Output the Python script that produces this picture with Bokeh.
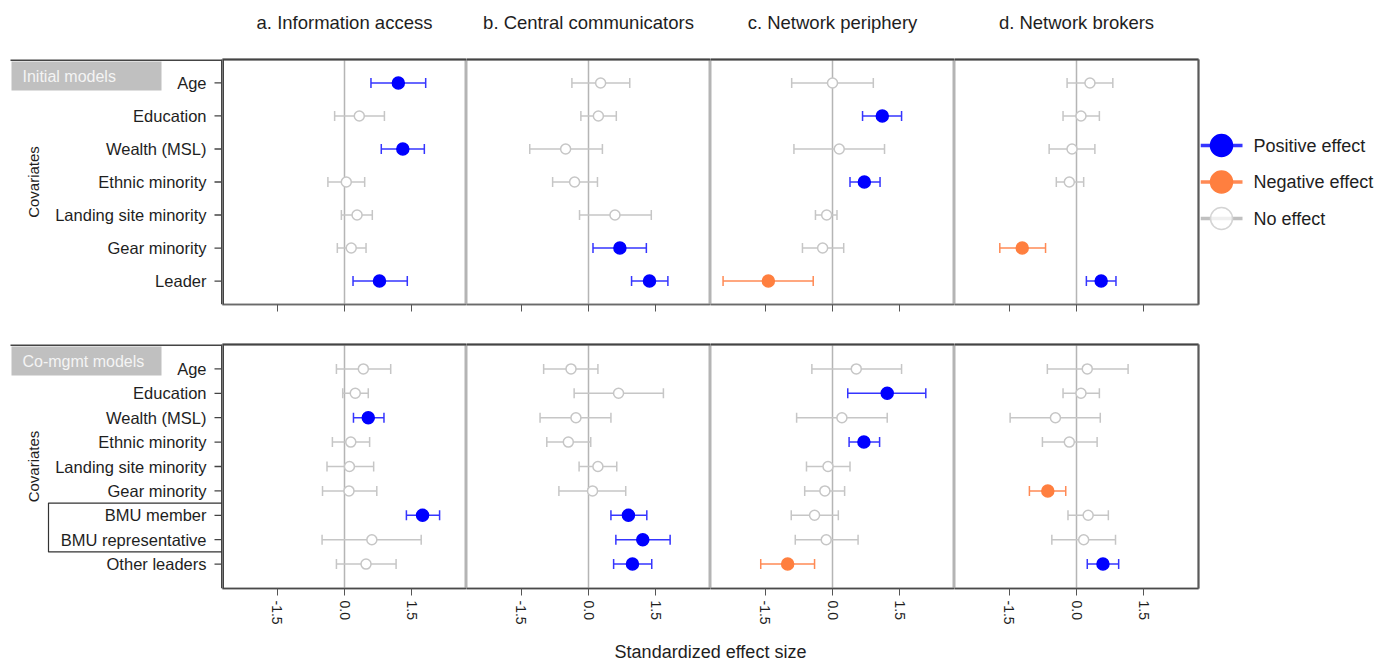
import math
from bokeh.plotting import figure
from bokeh.models import (Range1d, FixedTicker, PrintfTickFormatter, Span,
                          LinearAxis, ColumnDataSource)
from bokeh.core.properties import value
from bokeh.layouts import column, row
from bokeh.embed import file_html
from bokeh.resources import INLINE

NaN = float("nan")

# ---------------- data ----------------
PANEL_TITLES = ["a. Information access", "b. Central communicators",
                "c. Network periphery", "d. Network brokers"]
ROW_NAMES = ["Initial models", "Co-mgmt models"]
COV_INITIAL = ["Age", "Education", "Wealth (MSL)", "Ethnic minority",
               "Landing site minority", "Gear minority", "Leader"]
COV_COMGMT = ["Age", "Education", "Wealth (MSL)", "Ethnic minority",
              "Landing site minority", "Gear minority", "BMU member",
              "BMU representative", "Other leaders"]
BOXED_COVS = ["BMU member", "BMU representative"]
Y_LABEL = "Covariates"
X_TICKS = [-1.5, 0.0, 1.5]
LEGEND_LABELS = ["Positive effect", "Negative effect", "No effect"]
LEGEND_CODES = ["+", "-", "0"]
X_LABEL = "Standardized effect size"

# Initial models ("+" positive, "-" negative, "0" no effect)
init_a_est = [1.20, 0.33, 1.30, 0.04, 0.28, 0.15, 0.78]
init_a_lo = [0.59, -0.22, 0.82, -0.37, -0.07, -0.16, 0.19]
init_a_hi = [1.81, 0.89, 1.78, 0.45, 0.62, 0.48, 1.40]
init_a_eff = ["+", "0", "+", "0", "0", "0", "+"]

init_b_est = [0.27, 0.22, -0.51, -0.31, 0.59, 0.70, 1.36]
init_b_lo = [-0.37, -0.17, -1.31, -0.80, -0.20, 0.10, 0.96]
init_b_hi = [0.92, 0.62, 0.31, 0.20, 1.40, 1.29, 1.77]
init_b_eff = ["0", "0", "0", "0", "0", "+", "+"]

init_c_est = [0.00, 1.11, 0.15, 0.71, -0.13, -0.22, -1.43]
init_c_lo = [-0.91, 0.67, -0.86, 0.39, -0.38, -0.67, -2.44]
init_c_hi = [0.91, 1.54, 1.16, 1.06, 0.10, 0.25, -0.43]
init_c_eff = ["0", "+", "0", "+", "0", "0", "-"]

init_d_est = [0.30, 0.10, -0.10, -0.16, NaN, -1.21, 0.55]
init_d_lo = [-0.21, -0.30, -0.61, -0.45, NaN, -1.71, 0.22]
init_d_hi = [0.81, 0.51, 0.41, 0.16, NaN, -0.69, 0.88]
init_d_eff = ["0", "0", "0", "0", "", "-", "+"]

# Co-management models
co_a_est = [0.42, 0.24, 0.53, 0.14, 0.11, 0.10, 1.74, 0.61, 0.48]
co_a_lo = [-0.18, -0.04, 0.20, -0.27, -0.39, -0.49, 1.38, -0.50, -0.18]
co_a_hi = [1.03, 0.53, 0.88, 0.56, 0.65, 0.72, 2.12, 1.71, 1.15]
co_a_eff = ["0", "0", "+", "0", "0", "0", "+", "0", "0"]

co_b_est = [-0.39, 0.67, -0.28, -0.45, 0.21, 0.09, 0.89, 1.21, 0.98]
co_b_lo = [-1.00, -0.32, -1.08, -0.93, -0.21, -0.66, 0.50, 0.61, 0.56]
co_b_hi = [0.21, 1.67, 0.50, 0.05, 0.63, 0.83, 1.30, 1.82, 1.41]
co_b_eff = ["0", "0", "0", "0", "0", "0", "+", "+", "+"]

co_c_est = [0.53, 1.22, 0.21, 0.70, -0.10, -0.17, -0.40, -0.14, -1.00]
co_c_lo = [-0.46, 0.34, -0.80, 0.37, -0.58, -0.62, -0.92, -0.83, -1.60]
co_c_hi = [1.54, 2.08, 1.22, 1.05, 0.39, 0.27, 0.13, 0.57, -0.40]
co_c_eff = ["0", "+", "0", "+", "0", "0", "0", "0", "-"]

co_d_est = [0.24, 0.10, -0.47, -0.16, NaN, -0.64, 0.26, 0.16, 0.59]
co_d_lo = [-0.65, -0.30, -1.48, -0.76, NaN, -1.05, -0.19, -0.55, 0.24]
co_d_hi = [1.15, 0.51, 0.53, 0.46, NaN, -0.24, 0.71, 0.87, 0.94]
co_d_eff = ["0", "0", "0", "0", "", "-", "0", "0", "+"]

ROWS = [
    (COV_INITIAL, [(init_a_est, init_a_lo, init_a_hi, init_a_eff),
                   (init_b_est, init_b_lo, init_b_hi, init_b_eff),
                   (init_c_est, init_c_lo, init_c_hi, init_c_eff),
                   (init_d_est, init_d_lo, init_d_hi, init_d_eff)]),
    (COV_COMGMT, [(co_a_est, co_a_lo, co_a_hi, co_a_eff),
                  (co_b_est, co_b_lo, co_b_hi, co_b_eff),
                  (co_c_est, co_c_lo, co_c_hi, co_c_eff),
                  (co_d_est, co_d_lo, co_d_hi, co_d_eff)]),
]

# ---------------- style / layout ----------------
FONT = "Liberation Sans"
TXT = "#1e1e1e"
DARK = "#444444"
# effect -> (bar colour, point line colour, point fill, point size)
STYLE = {
    "+": ("#3535ff", "#0000ff", "#0000ff", 12),
    "-": ("#ff8a55", "#ff7f3f", "#ff7f3f", 12),
    "0": ("#c6c6c6", "#c6c6c6", "white", 10),
}

TOTAL_W, TOTAL_H = 1375, 661
XR = (-2.72, 2.72)
PW = 244                    # frame width of each panel
FH = [245, 244]             # frame heights of the two rows
Y_PAD = [0.71, 1.0]         # padding of the covariate axis
LEFT = 222                  # label column width
HEADER_H = 47
BORDER_TOP = [12, 10]
BORDER_BOTTOM = [30, 45]
RIGHT_PAD = 2
ROW_H = [BORDER_TOP[i] + FH[i] + BORDER_BOTTOM[i] for i in range(2)]
XL_H = TOTAL_H - HEADER_H - sum(ROW_H)
LEG_W = TOTAL_W - (LEFT + 4 * PW + RIGHT_PAD)
FRAME_TOP_Y = HEADER_H + BORDER_TOP[0] + FH[0]   # page y of the top row's frame bottom


def bare_figure(fw, fh, xr, yr, top=0, bottom=0):
    f = figure(frame_width=fw, frame_height=fh, x_range=xr, y_range=yr,
               toolbar_location=None, output_backend="svg",
               x_axis_location=None, y_axis_location=None,
               min_border_left=0, min_border_right=0,
               min_border_top=top, min_border_bottom=bottom)
    f.grid.visible = False
    f.outline_line_color = None
    f.background_fill_color = "white"
    f.border_fill_color = "white"
    return f


def y_extent(r, n):
    return 1 - Y_PAD[r], n + Y_PAD[r]


def make_side(r, covs):
    """Covariate labels, ticks and row tag, aligned with the panel rows."""
    n = len(covs)
    y0, y1 = y_extent(r, n)
    pyu = FH[r] / (y1 - y0)
    s = bare_figure(LEFT, FH[r], Range1d(0, LEFT), Range1d(y0, y1),
                    BORDER_TOP[r], BORDER_BOTTOM[r])
    ys = [n - i for i in range(n)]
    # covariate names and tick marks
    s.text(x=[LEFT - 16] * n, y=ys, text=covs, text_align="right",
           text_baseline="middle", text_font=value(FONT),
           text_font_size="16.5px", text_color=TXT)
    s.segment(x0=[LEFT - 8] * n, x1=[LEFT] * n, y0=ys, y1=ys,
              line_color=DARK, line_width=1.3)
    # frame left edge
    s.segment(x0=[LEFT], x1=[LEFT], y0=[y0], y1=[y1], line_color=DARK,
              line_width=3)
    # axis title
    s.text(x=[33], y=[(y0 + y1) / 2], text=[Y_LABEL], angle=math.pi / 2,
           text_align="center", text_baseline="middle", text_font=value(FONT),
           text_font_size="15px", text_color=TXT)
    # dark rule along the top of the row
    s.segment(x0=[10], x1=[LEFT], y0=[y1], y1=[y1], line_color=DARK,
              line_width=3)
    # grey row tag
    s.quad(left=[11], right=[161], top=[y1 - 2 / pyu], bottom=[y1 - 31 / pyu],
           fill_color="#c0c0c0", line_color=None)
    s.text(x=[22], y=[y1 - 16.5 / pyu], text=[ROW_NAMES[r]], text_align="left",
           text_baseline="middle", text_font=value(FONT), text_font_size="16px",
           text_color="#f4f4f4")
    # box around the BMU covariates
    boxed = [ys[covs.index(cv)] for cv in BOXED_COVS if cv in covs]
    if boxed:
        s.quad(left=[48], right=[LEFT], bottom=[min(boxed) - 0.5],
               top=[max(boxed) + 0.5], fill_color=None, line_color="#333333",
               line_width=1.2)
    return s


def make_panel(r, c, covs, est, lo, hi, eff):
    n = len(covs)
    y0, y1 = y_extent(r, n)
    p = figure(frame_width=PW, frame_height=FH[r],
               x_range=Range1d(*XR), y_range=Range1d(y0, y1),
               toolbar_location=None, output_backend="svg",
               y_axis_location=None,
               min_border_left=0,
               min_border_right=RIGHT_PAD if c == 3 else 0,
               min_border_top=BORDER_TOP[r],
               min_border_bottom=BORDER_BOTTOM[r])
    p.grid.visible = False
    p.background_fill_color = "white"
    p.border_fill_color = "white"
    p.outline_line_color = "#b4b4b4"
    p.outline_line_width = 2

    ys = [n - i for i in range(n)]
    d = dict(y=[], est=[], lo=[], hi=[], bar=[], pt=[], fill=[], size=[])
    for i in range(n):
        if math.isnan(est[i]):
            continue
        bar, ptc, fill, size = STYLE[eff[i]]
        d["y"].append(ys[i]); d["est"].append(est[i])
        d["lo"].append(lo[i]); d["hi"].append(hi[i])
        d["bar"].append(bar); d["pt"].append(ptc)
        d["fill"].append(fill); d["size"].append(size)
    src = ColumnDataSource(d)

    p.add_layout(Span(location=0, dimension="height", line_color="#b5b5b5",
                      line_width=1.5, level="underlay"))
    if c == 0:
        p.add_layout(Span(location=XR[0], dimension="height", line_color=DARK,
                          line_width=3))
    p.segment(x0="lo", x1="hi", y0="y", y1="y", line_color="bar",
              line_width=1.5, source=src)
    for col in ("lo", "hi"):
        p.scatter(x=col, y="y", marker="dash", angle=math.pi / 2, size=10,
                  line_color="bar", line_width=1.5, source=src)
    p.scatter(x="est", y="y", size="size", fill_color="fill", line_color="pt",
              line_width=1.5, source=src)

    # x axis
    xa = p.xaxis[0]
    xa.ticker = FixedTicker(ticks=X_TICKS)
    xa.formatter = PrintfTickFormatter(format="%.1f")
    xa.major_tick_out = 7
    xa.major_tick_in = 0
    xa.minor_tick_line_color = None
    xa.axis_line_color = "#6a6a6a" if r == 0 else "#4a4a4a"
    xa.axis_line_width = 1.5
    xa.major_tick_line_color = "#555555"
    if r == 0:
        xa.major_label_overrides = {t: "" for t in X_TICKS}
    else:
        xa.major_label_orientation = "vertical"
        xa.major_label_text_font = FONT
        xa.major_label_text_font_size = "14px"
        xa.major_label_text_color = TXT
        xa.major_label_standoff = 5

    def rule(side, color):
        ax = LinearAxis(ticker=FixedTicker(ticks=[]), axis_line_color=color,
                        axis_line_width=2, major_tick_line_color=None,
                        minor_tick_line_color=None, major_tick_out=0,
                        minor_tick_out=0, major_label_standoff=0)
        p.add_layout(ax, side)

    rule("above", DARK)
    if c == 3:
        rule("right", "#5a5a5a")
    return p


# header with the panel titles
header = bare_figure(TOTAL_W, HEADER_H, Range1d(0, TOTAL_W), Range1d(0, HEADER_H))
header.text(x=[LEFT + (c + 0.5) * PW for c in range(4)], y=[HEADER_H - 22] * 4,
            text=PANEL_TITLES, text_align="center", text_baseline="middle",
            text_font=value(FONT), text_font_size="18.5px", text_color=TXT)

rows_figs = []
for r, (covs, panels) in enumerate(ROWS):
    rows_figs.append([make_side(r, covs)] +
                     [make_panel(r, c, covs, *panels[c]) for c in range(4)])

# legend (frame aligned with the top row's panels; y measured up from frame bottom)
lg = bare_figure(LEG_W, FH[0], Range1d(0, LEG_W), Range1d(0, FH[0]),
                 BORDER_TOP[0], BORDER_BOTTOM[0])
LEG_Y0 = FRAME_TOP_Y - 145
LEG_STEP = 36.5
leg_y = [LEG_Y0 - i * LEG_STEP for i in range(len(LEGEND_LABELS))]
leg_line = [STYLE[k][0] if k != "0" else "#c0c0c0" for k in LEGEND_CODES]
leg_pt = [STYLE[k][1] if k != "0" else "#d4d4d4" for k in LEGEND_CODES]
leg_fill = [STYLE[k][2] for k in LEGEND_CODES]
lg.segment(x0=[0] * 3, x1=[42] * 3, y0=leg_y, y1=leg_y, line_color=leg_line,
           line_width=3.5)
lg.scatter(x=[21] * 3, y=leg_y, size=22, line_color=leg_pt, fill_color=leg_fill,
           fill_alpha=[1, 1, 0.75], line_width=1.5)
lg.text(x=[53] * 3, y=leg_y, text=LEGEND_LABELS, text_baseline="middle",
        text_align="left", text_font=value(FONT), text_font_size="18px",
        text_color=TXT)

# shared x label
xl = bare_figure(TOTAL_W, XL_H, Range1d(0, TOTAL_W), Range1d(0, XL_H))
xl.text(x=[LEFT + 2 * PW], y=[XL_H - 18], text=[X_LABEL], text_align="center",
        text_baseline="middle", text_font=value(FONT), text_font_size="18px",
        text_color=TXT)

layout = column(header,
                row(*rows_figs[0], lg, spacing=0),
                row(*rows_figs[1], spacing=0),
                xl, spacing=0)

open("out.html", "w").write(file_html(layout, INLINE))
